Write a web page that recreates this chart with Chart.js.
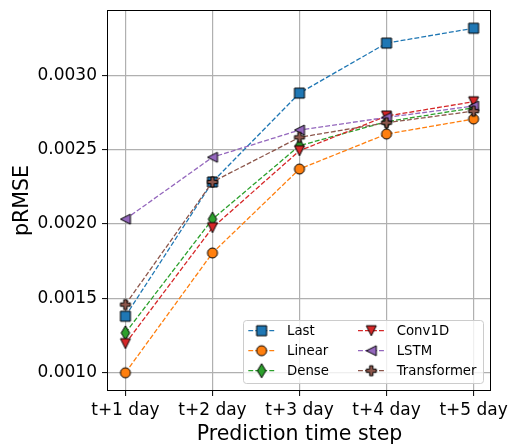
<!DOCTYPE html>
<html>
<head>
<meta charset="utf-8">
<script src="https://cdn.jsdelivr.net/npm/chart.js@4"></script>
<style>
  html, body { margin: 0; padding: 0; background: #fff; }
  #wrap { width: 509px; height: 445px; }
</style>
</head>
<body>
<div id="wrap"><canvas id="chart" width="509" height="445"></canvas></div>
<script>
// prediction horizon and pRMSE per model
var steps = ['t+1 day', 't+2 day', 't+3 day', 't+4 day', 't+5 day'];
var models = ['Last', 'Linear', 'Dense', 'Conv1D', 'LSTM', 'Transformer'];
var lastVals = [0.001380, 0.002282, 0.002879, 0.003215, 0.003315];
var linearVals = [0.001000, 0.001805, 0.002369, 0.002604, 0.002705];
var denseVals = [0.001268, 0.002032, 0.002526, 0.002687, 0.002780];
var conv1dVals = [0.001196, 0.001975, 0.002492, 0.002725, 0.002821];
var lstmVals = [0.002032, 0.002448, 0.002631, 0.002716, 0.002792];
var transformerVals = [0.001458, 0.002282, 0.002582, 0.002680, 0.002758];
var yTicks = [0.0010, 0.0015, 0.0020, 0.0025, 0.0030];

var allVals = [lastVals, linearVals, denseVals, conv1dVals, lstmVals, transformerVals];
var colors = ['#1f77b4', '#ff7f0e', '#2ca02c', '#d62728', '#9467bd', '#8c564b'];
var shapes = ['s', 'o', 'd', 'v', '<', 'P'];
var markerSize = 10;

function makeMarker(shape, fill) {
  var c = document.createElement('canvas');
  c.width = 20; c.height = 20;
  var g = c.getContext('2d');
  var s = markerSize, h = s / 2;
  g.translate(10, 10);
  g.beginPath();
  if (shape == 's') {
    g.rect(-h, -h, s, s);
  } else if (shape == 'o') {
    g.arc(0, 0, h, 0, Math.PI * 2);
  } else if (shape == 'd') {
    var dx = 0.6 * s * Math.SQRT1_2, dy = s * Math.SQRT1_2;
    g.moveTo(0, -dy); g.lineTo(dx, 0); g.lineTo(0, dy); g.lineTo(-dx, 0);
  } else if (shape == 'v') {
    g.moveTo(-h, -h); g.lineTo(h, -h); g.lineTo(0, h);
  } else if (shape == '<') {
    g.moveTo(-h, 0); g.lineTo(h, -h); g.lineTo(h, h);
  } else if (shape == 'P') {
    var pts = [[-1,-3],[1,-3],[1,-1],[3,-1],[3,1],[1,1],[1,3],[-1,3],[-1,1],[-3,1],[-3,-1],[-1,-1]];
    pts.forEach(function(p, i) {
      if (i == 0) g.moveTo(p[0] * s / 6, p[1] * s / 6);
      else g.lineTo(p[0] * s / 6, p[1] * s / 6);
    });
  }
  g.closePath();
  g.fillStyle = fill;
  g.fill();
  g.lineWidth = 1;
  g.lineJoin = 'miter';
  g.strokeStyle = '#000';
  g.stroke();
  return c;
}

var markers = shapes.map(function(s, i) { return makeMarker(s, colors[i]); });

// y range with 5% margins like the usual matplotlib autoscale
var flat = [].concat.apply([], allVals);
var yMin = Math.min.apply(null, flat), yMax = Math.max.apply(null, flat);
var yPad = (yMax - yMin) * 0.05;

var datasets = models.map(function(name, i) {
  return {
    label: name,
    data: allVals[i].map(function(v, j) { return { x: j, y: v }; }),
    borderColor: colors[i],
    backgroundColor: colors[i],
    borderWidth: 1.3,
    borderDash: [4.9, 2.1],
    pointStyle: markers[i],
    pointRadius: 5,
    tension: 0,
    order: models.length - i
  };
});

var framePlugin = {
  id: 'frameAndLegend',
  afterDatasetsDraw: function(chart) {
    var ctx = chart.ctx, a = chart.chartArea;
    ctx.save();
    ctx.strokeStyle = '#000';
    ctx.lineWidth = 1;
    ctx.setLineDash([]);
    ctx.strokeRect(a.left - 0.5, a.top - 0.5, a.right - a.left, a.bottom - a.top + 1);

    // legend, two columns, lower right
    var w = 240, h = 63;
    var x0 = a.right - 8 - w, y0 = a.bottom - 7 - h;
    ctx.beginPath();
    ctx.roundRect(x0 + 0.5, y0 + 0.5, w, h, 3);
    ctx.fillStyle = 'rgba(255,255,255,0.8)';
    ctx.fill();
    ctx.strokeStyle = '#cccccc';
    ctx.stroke();

    ctx.font = '13.3px "DejaVu Sans"';
    ctx.textBaseline = 'middle';
    ctx.textAlign = 'left';
    models.forEach(function(name, i) {
      var col = Math.floor(i / 3), row = i % 3;
      var hx = x0 + 5.3 + col * 109.7;
      var hy = y0 + 10.7 + row * 20;
      ctx.beginPath();
      ctx.setLineDash([4.9, 2.1]);
      ctx.strokeStyle = colors[i];
      ctx.lineWidth = 1.3;
      ctx.moveTo(hx, hy);
      ctx.lineTo(hx + 26.7, hy);
      ctx.stroke();
      ctx.setLineDash([]);
      ctx.drawImage(markers[i], hx + 13.3 - 10, hy - 10);
      ctx.fillStyle = '#000';
      ctx.fillText(name, hx + 38.7, hy + 0.5);
    });
    ctx.restore();
  }
};

Chart.defaults.font.family = '"DejaVu Sans"';
Chart.defaults.color = '#000';

var ctx = document.getElementById('chart').getContext('2d');
var myChart = new Chart(ctx, {
  type: 'line',
  data: { datasets: datasets },
  options: {
    responsive: false,
    devicePixelRatio: 1,
    animation: false,
    layout: { padding: { left: 0, top: 11, right: 18, bottom: 0 } },
    plugins: {
      legend: { display: false },
      tooltip: { enabled: false }
    },
    scales: {
      x: {
        type: 'linear',
        min: -0.2,
        max: 4.2,
        afterBuildTicks: function(scale) {
          scale.ticks = steps.map(function(s, i) { return { value: i }; });
        },
        afterFit: function(scale) {
          scale.height = 55;
          // let the end labels run into the margin instead of shrinking the plot
          scale.paddingLeft = 0;
          scale.paddingRight = 0;
        },
        ticks: {
          autoSkip: false,
          maxRotation: 0,
          padding: 4,
          font: { size: 17 },
          callback: function(v) { return steps[v]; }
        },
        grid: { color: '#b0b0b0', lineWidth: 1.2, tickColor: '#000', tickWidth: 1, tickLength: 6 },
        border: { display: false },
        title: {
          display: true,
          text: 'Prediction time step',
          font: { size: 20.5, lineHeight: 1 },
          padding: 0
        }
      },
      y: {
        min: yMin - yPad,
        max: yMax + yPad,
        afterBuildTicks: function(scale) {
          scale.ticks = yTicks.map(function(v) { return { value: v }; });
        },
        afterFit: function(scale) {
          scale.width = 108;
          scale.paddingTop = 0;
          scale.paddingBottom = 0;
        },
        ticks: {
          padding: 5,
          font: { size: 17 },
          callback: function(v) { return v.toFixed(4); }
        },
        grid: { color: '#b0b0b0', lineWidth: 1.2, tickColor: '#000', tickWidth: 1, tickLength: 6 },
        border: { display: false },
        title: {
          display: true,
          text: 'pRMSE',
          font: { size: 20.5, lineHeight: 1.2 },
          padding: { top: 10, bottom: 0 }
        }
      }
    }
  },
  plugins: [framePlugin]
});
</script>
</body>
</html>
